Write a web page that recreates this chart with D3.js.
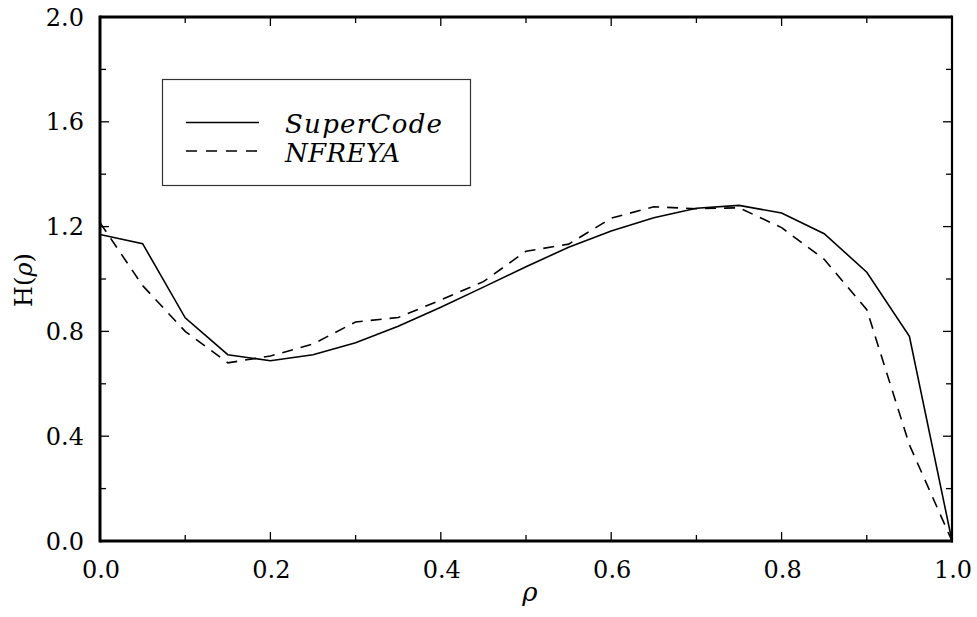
<!DOCTYPE html>
<html>
<head>
<meta charset="utf-8">
<script src="https://cdn.jsdelivr.net/npm/d3@7"></script>
<style>
  body { margin: 0; background: #fff; }
  svg { display: block; }
</style>
</head>
<body>
<svg id="chart" width="977" height="617"></svg>
<script>
const rho = [0, 0.05, 0.1, 0.15, 0.2, 0.25, 0.3, 0.35, 0.4, 0.45, 0.5, 0.55, 0.6, 0.65, 0.7, 0.75, 0.8, 0.85, 0.9, 0.95, 1.0];
const superCode = [1.17, 1.135, 0.852, 0.711, 0.688, 0.711, 0.757, 0.82, 0.892, 0.969, 1.047, 1.121, 1.183, 1.234, 1.27, 1.281, 1.252, 1.173, 1.026, 0.781, 0.0];
const nfreya = [1.215, 0.975, 0.80, 0.68, 0.706, 0.752, 0.836, 0.853, 0.92, 0.99, 1.106, 1.133, 1.232, 1.276, 1.268, 1.272, 1.196, 1.075, 0.883, 0.367, 0.0];
const xMajorTicks = [0, 0.2, 0.4, 0.6, 0.8, 1.0];
const xMinorTicks = [0.1, 0.3, 0.5, 0.7, 0.9];
const yMajorTicks = [0, 0.4, 0.8, 1.2, 1.6, 2.0];
const yMinorTicks = [0.2, 0.6, 1.0, 1.4, 1.8];
const seriesNames = ["SuperCode", "NFREYA"];

const svg = d3.select("#chart");
const L = 100, R = 952, T = 17, B = 541;
const x = d3.scaleLinear().domain([0, 1]).range([L, R]);
const y = d3.scaleLinear().domain([0, 2]).range([B, T]);
const serifFont = "'DejaVu Serif', 'Liberation Serif', 'Noto Serif', 'Times New Roman', Times, serif";

function drawTicks(vals, len) {
  const g = svg.append("g").attr("stroke", "#000").attr("stroke-width", 1.3);
  vals.x.forEach(v => {
    g.append("line").attr("x1", x(v)).attr("x2", x(v)).attr("y1", B).attr("y2", B - len);
    g.append("line").attr("x1", x(v)).attr("x2", x(v)).attr("y1", T).attr("y2", T + len);
  });
  vals.y.forEach(v => {
    g.append("line").attr("y1", y(v)).attr("y2", y(v)).attr("x1", L).attr("x2", L + len);
    g.append("line").attr("y1", y(v)).attr("y2", y(v)).attr("x1", R).attr("x2", R - len);
  });
}
drawTicks({x: xMajorTicks, y: yMajorTicks}, 9);
drawTicks({x: xMinorTicks, y: yMinorTicks}, 6);

svg.append("line").attr("x1", L).attr("x2", R).attr("y1", T).attr("y2", T).attr("stroke", "#000").attr("stroke-width", 3);
svg.append("line").attr("x1", L).attr("x2", R + 1).attr("y1", B).attr("y2", B).attr("stroke", "#000").attr("stroke-width", 3);
svg.append("line").attr("x1", L).attr("x2", L).attr("y1", T - 1.5).attr("y2", B + 1.5).attr("stroke", "#000").attr("stroke-width", 3);
svg.append("line").attr("x1", R).attr("x2", R).attr("y1", T - 1.5).attr("y2", B + 1.5).attr("stroke", "#000").attr("stroke-width", 2.2);

svg.append("g").selectAll("text").data(yMajorTicks).join("text")
  .attr("x", 84).attr("y", d => y(d)).attr("dy", "0.36em")
  .attr("text-anchor", "end").attr("font-family", serifFont).attr("font-size", 24)
  .text(d => d3.format(".1f")(d));
svg.append("g").selectAll("text").data(xMajorTicks).join("text")
  .attr("x", d => x(d) + 1).attr("y", 578)
  .attr("text-anchor", "middle").attr("font-family", serifFont).attr("font-size", 24)
  .text(d => d3.format(".1f")(d));

svg.append("text").attr("x", 530).attr("y", 601).attr("text-anchor", "middle")
  .attr("font-family", serifFont).attr("font-style", "italic").attr("font-size", 26).text("ρ");
const yl = svg.append("text").attr("transform", "translate(32,280) rotate(-90)")
  .attr("text-anchor", "middle").attr("font-family", serifFont).attr("font-size", 24);
yl.append("tspan").text("H(");
yl.append("tspan").attr("font-style", "italic").text("ρ");
yl.append("tspan").text(")");

const line = d3.line().x((d, i) => x(rho[i])).y(d => y(d));
svg.append("path").datum(superCode).attr("d", line)
  .attr("fill", "none").attr("stroke", "#000").attr("stroke-width", 1.6);
svg.append("path").datum(nfreya).attr("d", line)
  .attr("fill", "none").attr("stroke", "#000").attr("stroke-width", 1.6).attr("stroke-dasharray", "11,8");

svg.append("rect").attr("x", 162.5).attr("y", 79.5).attr("width", 308).attr("height", 106)
  .attr("fill", "none").attr("stroke", "#333").attr("stroke-width", 1.2);
svg.append("line").attr("x1", 186).attr("x2", 259).attr("y1", 122.5).attr("y2", 122.5)
  .attr("stroke", "#000").attr("stroke-width", 1.6);
svg.append("line").attr("x1", 186).attr("x2", 259).attr("y1", 151).attr("y2", 151)
  .attr("stroke", "#000").attr("stroke-width", 1.6).attr("stroke-dasharray", "11,9");
svg.append("text").attr("x", 285).attr("y", 133).attr("font-family", serifFont)
  .attr("font-style", "italic").attr("font-size", 26).attr("textLength", 157).attr("lengthAdjust", "spacing")
  .text(seriesNames[0]);
svg.append("text").attr("x", 285).attr("y", 162).attr("font-family", serifFont)
  .attr("font-style", "italic").attr("font-size", 26).attr("textLength", 115).attr("lengthAdjust", "spacing")
  .text(seriesNames[1]);
</script>
</body>
</html>
